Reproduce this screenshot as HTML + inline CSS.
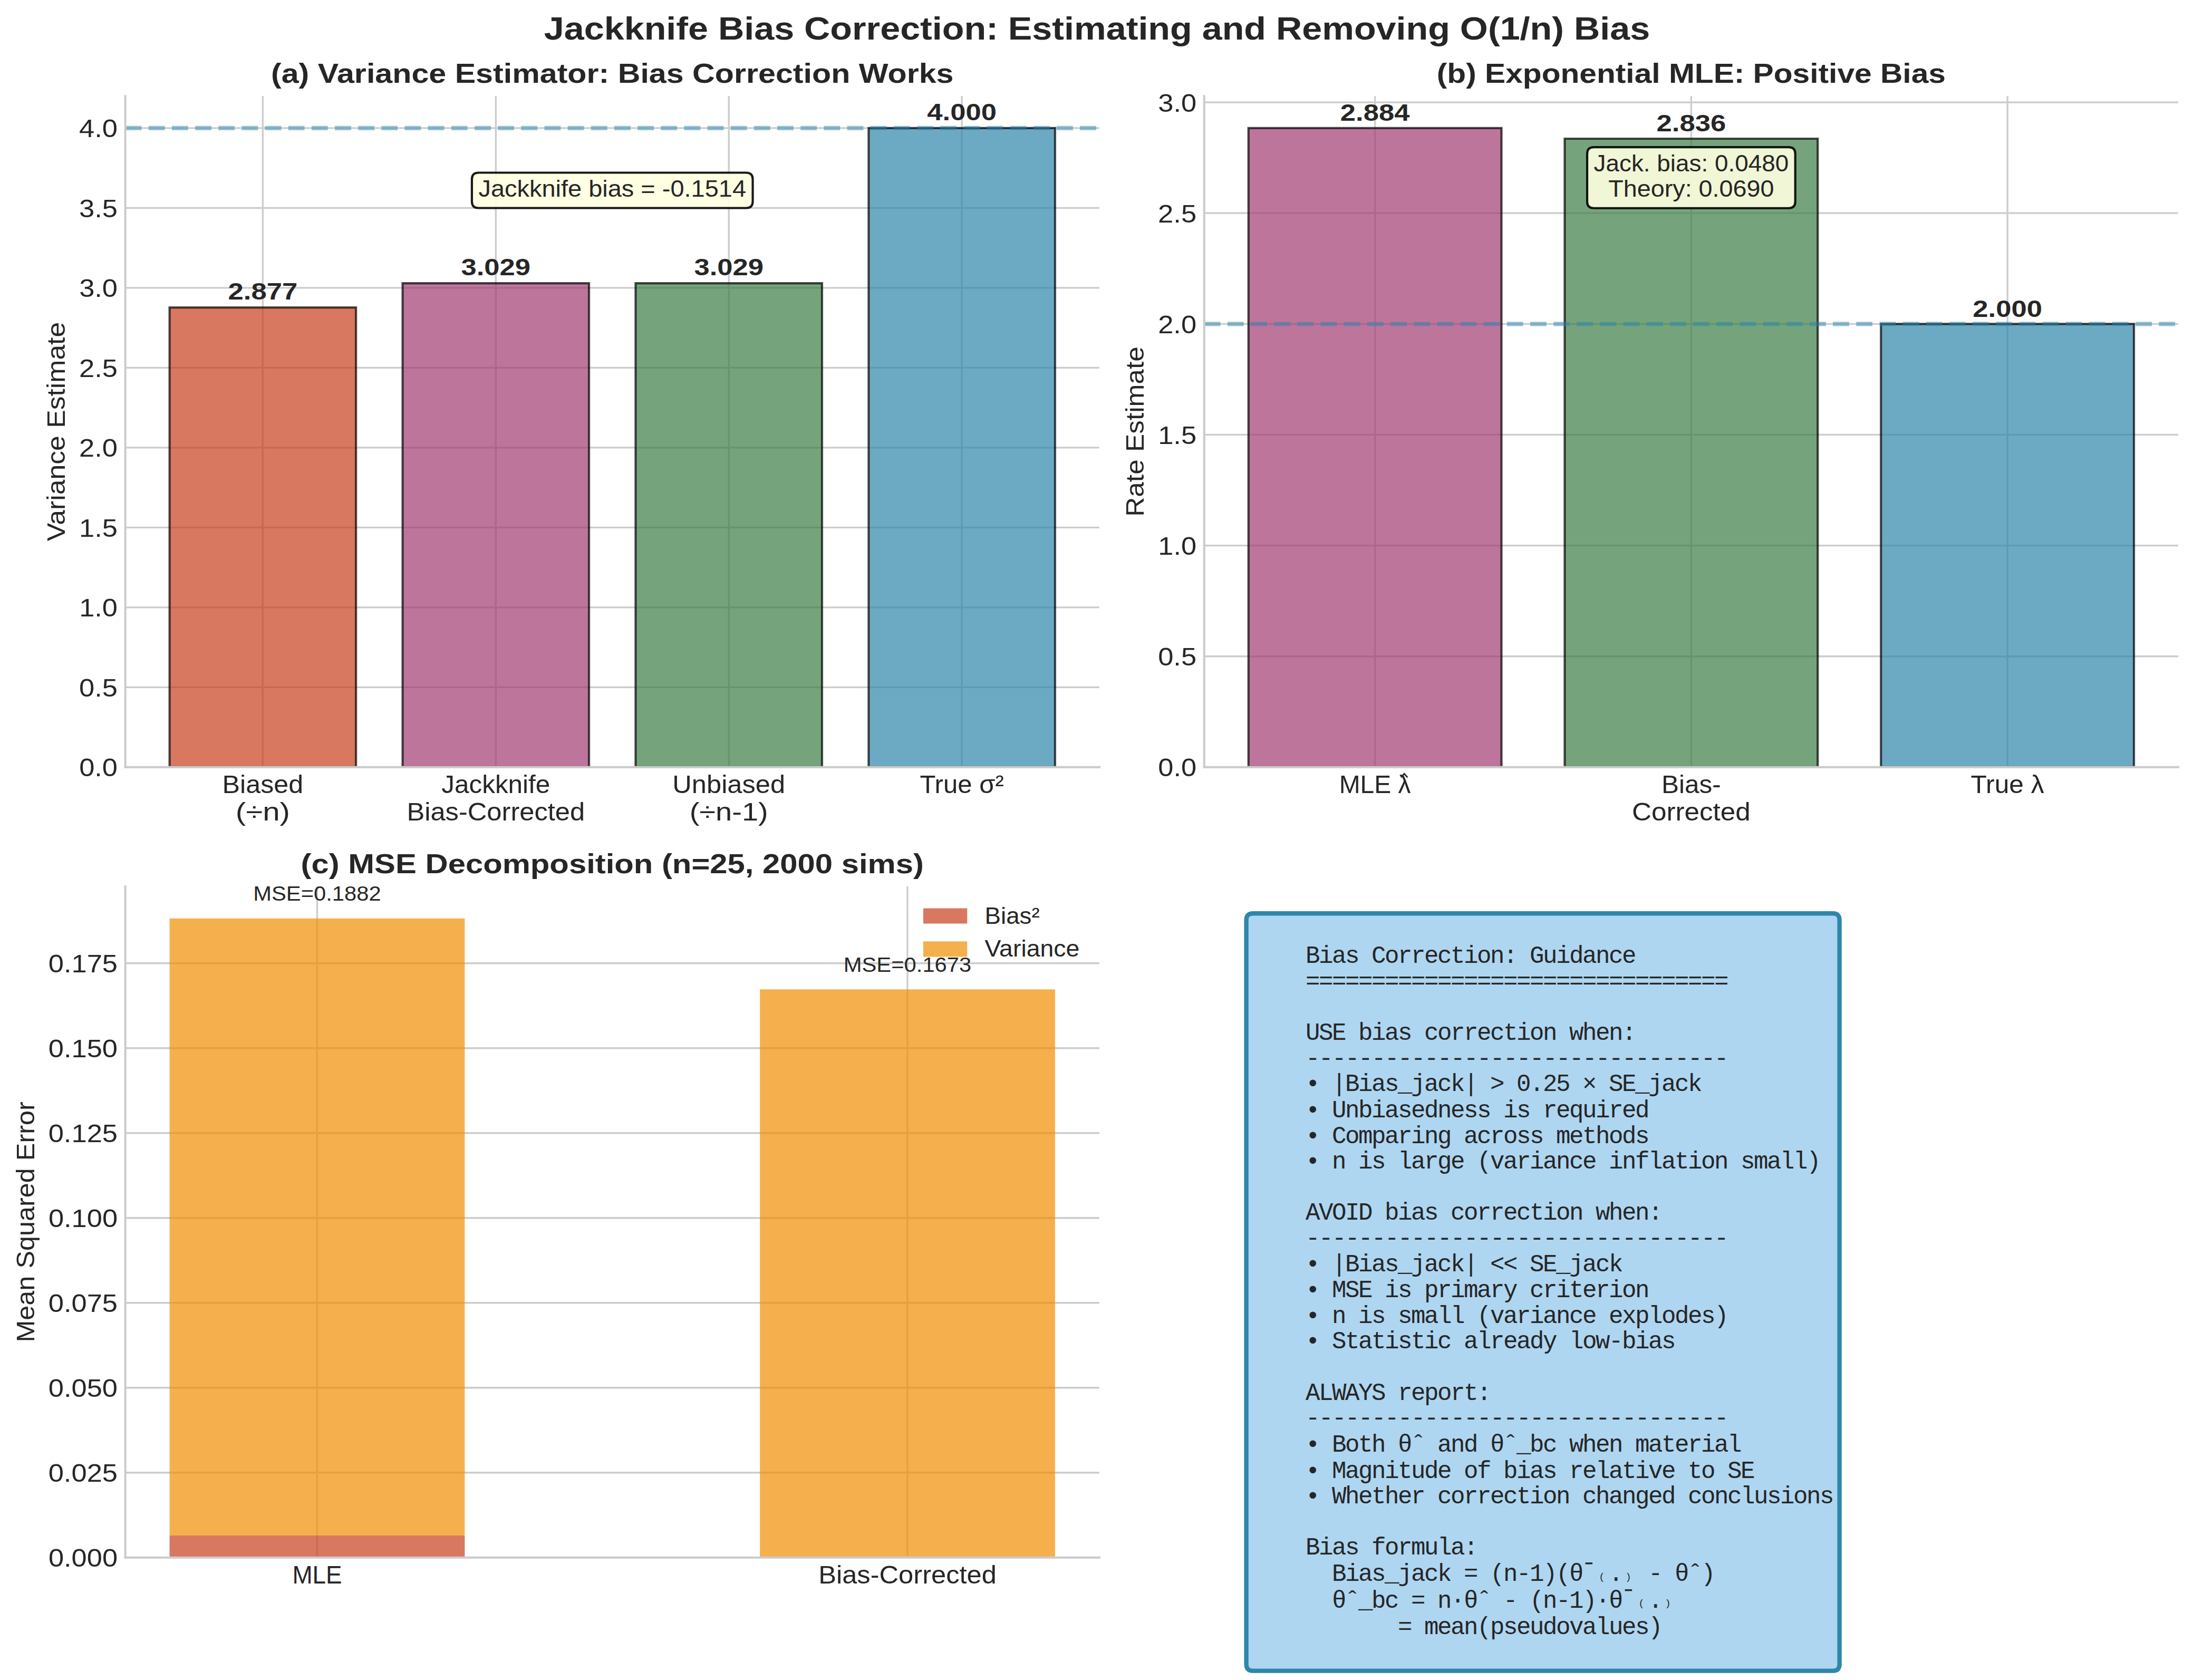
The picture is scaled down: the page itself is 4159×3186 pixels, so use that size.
<!DOCTYPE html>
<html><head><meta charset="utf-8"><title>Jackknife Bias Correction</title>
<style>html,body{margin:0;padding:0;background:#fff;}svg{display:block;}</style></head>
<body><svg width="4159" height="3186" viewBox="0 0 4159 3186">
<rect x="0" y="0" width="4159" height="3186" fill="#ffffff"/>
<path d="M498.36 1454.84L498.36 182.22" fill="none" stroke="#cccccc" stroke-width="3.33" stroke-linecap="butt"/>
<path d="M940.29 1454.84L940.29 182.22" fill="none" stroke="#cccccc" stroke-width="3.33" stroke-linecap="butt"/>
<path d="M1382.21 1454.84L1382.21 182.22" fill="none" stroke="#cccccc" stroke-width="3.33" stroke-linecap="butt"/>
<path d="M1824.14 1454.84L1824.14 182.22" fill="none" stroke="#cccccc" stroke-width="3.33" stroke-linecap="butt"/>
<path d="M237.63 1454.84L2084.87 1454.84" fill="none" stroke="#cccccc" stroke-width="3.33" stroke-linecap="butt"/>
<path d="M237.63 1303.34L2084.87 1303.34" fill="none" stroke="#cccccc" stroke-width="3.33" stroke-linecap="butt"/>
<path d="M237.63 1151.83L2084.87 1151.83" fill="none" stroke="#cccccc" stroke-width="3.33" stroke-linecap="butt"/>
<path d="M237.63 1000.33L2084.87 1000.33" fill="none" stroke="#cccccc" stroke-width="3.33" stroke-linecap="butt"/>
<path d="M237.63 848.83L2084.87 848.83" fill="none" stroke="#cccccc" stroke-width="3.33" stroke-linecap="butt"/>
<path d="M237.63 697.33L2084.87 697.33" fill="none" stroke="#cccccc" stroke-width="3.33" stroke-linecap="butt"/>
<path d="M237.63 545.82L2084.87 545.82" fill="none" stroke="#cccccc" stroke-width="3.33" stroke-linecap="butt"/>
<path d="M237.63 394.32L2084.87 394.32" fill="none" stroke="#cccccc" stroke-width="3.33" stroke-linecap="butt"/>
<path d="M237.63 242.82L2084.87 242.82" fill="none" stroke="#cccccc" stroke-width="3.33" stroke-linecap="butt"/>
<path d="M321.59 1454.84L675.13 1454.84L675.13 583.09L321.59 583.09Z" fill="#c73e1d" fill-opacity="0.700" stroke="#000000" stroke-width="4.17" stroke-opacity="0.700"/>
<path d="M763.52 1454.84L1117.06 1454.84L1117.06 537.04L763.52 537.04Z" fill="#a23b72" fill-opacity="0.700" stroke="#000000" stroke-width="4.17" stroke-opacity="0.700"/>
<path d="M1205.44 1454.84L1558.98 1454.84L1558.98 537.04L1205.44 537.04Z" fill="#3a7d44" fill-opacity="0.700" stroke="#000000" stroke-width="4.17" stroke-opacity="0.700"/>
<path d="M1647.37 1454.84L2000.91 1454.84L2000.91 242.82L1647.37 242.82Z" fill="#2e86ab" fill-opacity="0.700" stroke="#000000" stroke-width="4.17" stroke-opacity="0.700"/>
<path d="M237.63 242.82L2084.87 242.82" fill="none" stroke="#2e86ab" stroke-width="8.33" stroke-opacity="0.500" stroke-dasharray="30.83,13.33" stroke-linecap="butt"/>
<path d="M237.63 1454.84L237.63 182.22" fill="none" stroke="#cccccc" stroke-width="4.17" stroke-linecap="square"/>
<path d="M237.63 1454.84L2084.87 1454.84" fill="none" stroke="#cccccc" stroke-width="4.17" stroke-linecap="square"/>
<text x="421.61" y="1504.42" font-family="'Liberation Sans', sans-serif" font-size="48.13" font-weight="normal" fill="#262626" textLength="153.5" lengthAdjust="spacingAndGlyphs">Biased</text>
<text x="446.74" y="1556.42" font-family="'Liberation Sans', sans-serif" font-size="48.13" font-weight="normal" fill="#262626" textLength="103.25" lengthAdjust="spacingAndGlyphs">(÷n)</text>
<text x="837.29" y="1504.42" font-family="'Liberation Sans', sans-serif" font-size="48.13" font-weight="normal" fill="#262626" textLength="206" lengthAdjust="spacingAndGlyphs">Jackknife</text>
<text x="771.41" y="1556.42" font-family="'Liberation Sans', sans-serif" font-size="48.13" font-weight="normal" fill="#262626" textLength="337.75" lengthAdjust="spacingAndGlyphs">Bias-Corrected</text>
<text x="1275.34" y="1504.42" font-family="'Liberation Sans', sans-serif" font-size="48.13" font-weight="normal" fill="#262626" textLength="213.75" lengthAdjust="spacingAndGlyphs">Unbiased</text>
<text x="1307.71" y="1556.42" font-family="'Liberation Sans', sans-serif" font-size="48.13" font-weight="normal" fill="#262626" textLength="149" lengthAdjust="spacingAndGlyphs">(÷n-1)</text>
<text x="1744.45" y="1504.42" font-family="'Liberation Sans', sans-serif" font-size="48.13" font-weight="normal" fill="#262626" textLength="159.38" lengthAdjust="spacingAndGlyphs">True σ²</text>
<text x="150.17" y="1472.34" font-family="'Liberation Sans', sans-serif" font-size="48.13" font-weight="normal" fill="#262626" textLength="72.88" lengthAdjust="spacingAndGlyphs">0.0</text>
<text x="150.04" y="1320.84" font-family="'Liberation Sans', sans-serif" font-size="48.13" font-weight="normal" fill="#262626" textLength="73" lengthAdjust="spacingAndGlyphs">0.5</text>
<text x="150.17" y="1169.33" font-family="'Liberation Sans', sans-serif" font-size="48.13" font-weight="normal" fill="#262626" textLength="72.88" lengthAdjust="spacingAndGlyphs">1.0</text>
<text x="150.04" y="1017.83" font-family="'Liberation Sans', sans-serif" font-size="48.13" font-weight="normal" fill="#262626" textLength="73" lengthAdjust="spacingAndGlyphs">1.5</text>
<text x="150.04" y="866.33" font-family="'Liberation Sans', sans-serif" font-size="48.13" font-weight="normal" fill="#262626" textLength="73" lengthAdjust="spacingAndGlyphs">2.0</text>
<text x="149.92" y="714.83" font-family="'Liberation Sans', sans-serif" font-size="48.13" font-weight="normal" fill="#262626" textLength="73.12" lengthAdjust="spacingAndGlyphs">2.5</text>
<text x="150.17" y="563.32" font-family="'Liberation Sans', sans-serif" font-size="48.13" font-weight="normal" fill="#262626" textLength="72.88" lengthAdjust="spacingAndGlyphs">3.0</text>
<text x="150.04" y="411.82" font-family="'Liberation Sans', sans-serif" font-size="48.13" font-weight="normal" fill="#262626" textLength="73" lengthAdjust="spacingAndGlyphs">3.5</text>
<text x="150.04" y="260.32" font-family="'Liberation Sans', sans-serif" font-size="48.13" font-weight="normal" fill="#262626" textLength="73" lengthAdjust="spacingAndGlyphs">4.0</text>
<text transform="translate(123.25 1026.28) rotate(-90)" x="0" y="0" font-family="'Liberation Sans', sans-serif" font-size="48.13" font-weight="normal" fill="#262626" textLength="415.5" lengthAdjust="spacingAndGlyphs">Variance Estimate</text>
<text x="432.49" y="568.03" font-family="'Liberation Sans', sans-serif" font-size="43.75" font-weight="bold" fill="#262626" textLength="131.75" lengthAdjust="spacingAndGlyphs">2.877</text>
<text x="874.47" y="521.98" font-family="'Liberation Sans', sans-serif" font-size="43.75" font-weight="bold" fill="#262626" textLength="131.62" lengthAdjust="spacingAndGlyphs">3.029</text>
<text x="1316.4" y="521.98" font-family="'Liberation Sans', sans-serif" font-size="43.75" font-weight="bold" fill="#262626" textLength="131.62" lengthAdjust="spacingAndGlyphs">3.029</text>
<text x="1758.26" y="227.76" font-family="'Liberation Sans', sans-serif" font-size="43.75" font-weight="bold" fill="#262626" textLength="131.75" lengthAdjust="spacingAndGlyphs">4.000</text>
<path d="M907.44 394.49L1415.06 394.49Q1427.56 394.49 1427.56 381.99L1427.56 339.99Q1427.56 327.49 1415.06 327.49L907.44 327.49Q894.94 327.49 894.94 339.99L894.94 381.99Q894.94 394.49 907.44 394.49Z" fill="#ffffe0" fill-opacity="0.900" stroke="#000000" stroke-width="4.17" stroke-opacity="0.900"/>
<text x="907.44" y="372.99" font-family="'Liberation Sans', sans-serif" font-size="43.75" font-weight="normal" fill="#262626" textLength="507.62" lengthAdjust="spacingAndGlyphs">Jackknife bias = -0.1514</text>
<text x="514" y="157.22" font-family="'Liberation Sans', sans-serif" font-size="52.5" font-weight="bold" fill="#262626" textLength="1294.5" lengthAdjust="spacingAndGlyphs">(a) Variance Estimator: Bias Correction Works</text>
<path d="M2607.62 1454.84L2607.62 182.22" fill="none" stroke="#cccccc" stroke-width="3.33" stroke-linecap="butt"/>
<path d="M3207.37 1454.84L3207.37 182.22" fill="none" stroke="#cccccc" stroke-width="3.33" stroke-linecap="butt"/>
<path d="M3807.13 1454.84L3807.13 182.22" fill="none" stroke="#cccccc" stroke-width="3.33" stroke-linecap="butt"/>
<path d="M2283.75 1454.84L4131 1454.84" fill="none" stroke="#cccccc" stroke-width="3.33" stroke-linecap="butt"/>
<path d="M2283.75 1244.71L4131 1244.71" fill="none" stroke="#cccccc" stroke-width="3.33" stroke-linecap="butt"/>
<path d="M2283.75 1034.58L4131 1034.58" fill="none" stroke="#cccccc" stroke-width="3.33" stroke-linecap="butt"/>
<path d="M2283.75 824.45L4131 824.45" fill="none" stroke="#cccccc" stroke-width="3.33" stroke-linecap="butt"/>
<path d="M2283.75 614.33L4131 614.33" fill="none" stroke="#cccccc" stroke-width="3.33" stroke-linecap="butt"/>
<path d="M2283.75 404.2L4131 404.2" fill="none" stroke="#cccccc" stroke-width="3.33" stroke-linecap="butt"/>
<path d="M2283.75 194.07L4131 194.07" fill="none" stroke="#cccccc" stroke-width="3.33" stroke-linecap="butt"/>
<path d="M2367.72 1454.84L2847.52 1454.84L2847.52 242.82L2367.72 242.82Z" fill="#a23b72" fill-opacity="0.700" stroke="#000000" stroke-width="4.17" stroke-opacity="0.700"/>
<path d="M2967.47 1454.84L3447.28 1454.84L3447.28 262.99L2967.47 262.99Z" fill="#3a7d44" fill-opacity="0.700" stroke="#000000" stroke-width="4.17" stroke-opacity="0.700"/>
<path d="M3567.23 1454.84L4047.03 1454.84L4047.03 614.33L3567.23 614.33Z" fill="#2e86ab" fill-opacity="0.700" stroke="#000000" stroke-width="4.17" stroke-opacity="0.700"/>
<path d="M2283.75 614.33L4131 614.33" fill="none" stroke="#2e86ab" stroke-width="8.33" stroke-opacity="0.500" stroke-dasharray="30.83,13.33" stroke-linecap="butt"/>
<path d="M2283.75 1454.84L2283.75 182.22" fill="none" stroke="#cccccc" stroke-width="4.17" stroke-linecap="square"/>
<path d="M2283.75 1454.84L4131 1454.84" fill="none" stroke="#cccccc" stroke-width="4.17" stroke-linecap="square"/>
<path d="M2657.3 1474.4 L2663.1 1467.4 L2669.4 1474.4" fill="none" stroke="#262626" stroke-width="2.8" stroke-linejoin="miter"/>
<text x="2539.68" y="1504.42" font-family="'Liberation Sans', sans-serif" font-size="48.13" font-weight="normal" fill="#262626" textLength="135.88" lengthAdjust="spacingAndGlyphs">MLE λ</text>
<text x="3150.94" y="1504.42" font-family="'Liberation Sans', sans-serif" font-size="48.13" font-weight="normal" fill="#262626" textLength="112.88" lengthAdjust="spacingAndGlyphs">Bias-</text>
<text x="3094.94" y="1556.42" font-family="'Liberation Sans', sans-serif" font-size="48.13" font-weight="normal" fill="#262626" textLength="224.88" lengthAdjust="spacingAndGlyphs">Corrected</text>
<text x="3737.57" y="1504.42" font-family="'Liberation Sans', sans-serif" font-size="48.13" font-weight="normal" fill="#262626" textLength="139.12" lengthAdjust="spacingAndGlyphs">True λ</text>
<text x="2196.29" y="1472.34" font-family="'Liberation Sans', sans-serif" font-size="48.13" font-weight="normal" fill="#262626" textLength="72.88" lengthAdjust="spacingAndGlyphs">0.0</text>
<text x="2196.17" y="1262.21" font-family="'Liberation Sans', sans-serif" font-size="48.13" font-weight="normal" fill="#262626" textLength="73" lengthAdjust="spacingAndGlyphs">0.5</text>
<text x="2196.29" y="1052.08" font-family="'Liberation Sans', sans-serif" font-size="48.13" font-weight="normal" fill="#262626" textLength="72.88" lengthAdjust="spacingAndGlyphs">1.0</text>
<text x="2196.17" y="841.95" font-family="'Liberation Sans', sans-serif" font-size="48.13" font-weight="normal" fill="#262626" textLength="73" lengthAdjust="spacingAndGlyphs">1.5</text>
<text x="2196.17" y="631.83" font-family="'Liberation Sans', sans-serif" font-size="48.13" font-weight="normal" fill="#262626" textLength="73" lengthAdjust="spacingAndGlyphs">2.0</text>
<text x="2196.04" y="421.7" font-family="'Liberation Sans', sans-serif" font-size="48.13" font-weight="normal" fill="#262626" textLength="73.12" lengthAdjust="spacingAndGlyphs">2.5</text>
<text x="2196.29" y="211.57" font-family="'Liberation Sans', sans-serif" font-size="48.13" font-weight="normal" fill="#262626" textLength="72.88" lengthAdjust="spacingAndGlyphs">3.0</text>
<text transform="translate(2169.38 979.78) rotate(-90)" x="0" y="0" font-family="'Liberation Sans', sans-serif" font-size="48.13" font-weight="normal" fill="#262626" textLength="322.5" lengthAdjust="spacingAndGlyphs">Rate Estimate</text>
<text x="2541.81" y="229.2" font-family="'Liberation Sans', sans-serif" font-size="43.75" font-weight="bold" fill="#262626" textLength="131.62" lengthAdjust="spacingAndGlyphs">2.884</text>
<text x="3141.5" y="249.37" font-family="'Liberation Sans', sans-serif" font-size="43.75" font-weight="bold" fill="#262626" textLength="131.75" lengthAdjust="spacingAndGlyphs">2.836</text>
<text x="3741.26" y="600.7" font-family="'Liberation Sans', sans-serif" font-size="43.75" font-weight="bold" fill="#262626" textLength="131.75" lengthAdjust="spacingAndGlyphs">2.000</text>
<path d="M3022.56 394.76L3392.19 394.76Q3404.69 394.76 3404.69 382.26L3404.69 291.66Q3404.69 279.16 3392.19 279.16L3022.56 279.16Q3010.06 279.16 3010.06 291.66L3010.06 382.26Q3010.06 394.76 3022.56 394.76Z" fill="#ffffe0" fill-opacity="0.900" stroke="#000000" stroke-width="4.17" stroke-opacity="0.900"/>
<text x="3022.56" y="324.66" font-family="'Liberation Sans', sans-serif" font-size="43.75" font-weight="normal" fill="#262626" textLength="369.62" lengthAdjust="spacingAndGlyphs">Jack. bias: 0.0480</text>
<text x="3050.19" y="373.26" font-family="'Liberation Sans', sans-serif" font-size="43.75" font-weight="normal" fill="#262626" textLength="314.38" lengthAdjust="spacingAndGlyphs">Theory: 0.0690</text>
<text x="2724.81" y="157.22" font-family="'Liberation Sans', sans-serif" font-size="52.5" font-weight="bold" fill="#262626" textLength="965.12" lengthAdjust="spacingAndGlyphs">(b) Exponential MLE: Positive Bias</text>
<path d="M601.48 2953.74L601.48 1681.12" fill="none" stroke="#cccccc" stroke-width="3.33" stroke-linecap="butt"/>
<path d="M1721.02 2953.74L1721.02 1681.12" fill="none" stroke="#cccccc" stroke-width="3.33" stroke-linecap="butt"/>
<path d="M237.63 2953.74L2084.87 2953.74" fill="none" stroke="#cccccc" stroke-width="3.33" stroke-linecap="butt"/>
<path d="M237.63 2792.74L2084.87 2792.74" fill="none" stroke="#cccccc" stroke-width="3.33" stroke-linecap="butt"/>
<path d="M237.63 2631.74L2084.87 2631.74" fill="none" stroke="#cccccc" stroke-width="3.33" stroke-linecap="butt"/>
<path d="M237.63 2470.73L2084.87 2470.73" fill="none" stroke="#cccccc" stroke-width="3.33" stroke-linecap="butt"/>
<path d="M237.63 2309.73L2084.87 2309.73" fill="none" stroke="#cccccc" stroke-width="3.33" stroke-linecap="butt"/>
<path d="M237.63 2148.73L2084.87 2148.73" fill="none" stroke="#cccccc" stroke-width="3.33" stroke-linecap="butt"/>
<path d="M237.63 1987.73L2084.87 1987.73" fill="none" stroke="#cccccc" stroke-width="3.33" stroke-linecap="butt"/>
<path d="M237.63 1826.73L2084.87 1826.73" fill="none" stroke="#cccccc" stroke-width="3.33" stroke-linecap="butt"/>
<path d="M321.59 2953.74L881.36 2953.74L881.36 2911.88L321.59 2911.88Z" fill="#c73e1d" fill-opacity="0.700"/>
<path d="M1441.14 2953.74L2000.91 2953.74L2000.91 2953.42L1441.14 2953.42Z" fill="#c73e1d" fill-opacity="0.700"/>
<path d="M321.59 2911.88L881.36 2911.88L881.36 1741.72L321.59 1741.72Z" fill="#f18f01" fill-opacity="0.700"/>
<path d="M1441.14 2953.42L2000.91 2953.42L2000.91 1876.32L1441.14 1876.32Z" fill="#f18f01" fill-opacity="0.700"/>
<path d="M237.63 2953.74L237.63 1681.12" fill="none" stroke="#cccccc" stroke-width="4.17" stroke-linecap="square"/>
<path d="M237.63 2953.74L2084.87 2953.74" fill="none" stroke="#cccccc" stroke-width="4.17" stroke-linecap="square"/>
<text x="554.41" y="3003.32" font-family="'Liberation Sans', sans-serif" font-size="48.13" font-weight="normal" fill="#262626" textLength="94.12" lengthAdjust="spacingAndGlyphs">MLE</text>
<text x="1552.15" y="3003.32" font-family="'Liberation Sans', sans-serif" font-size="48.13" font-weight="normal" fill="#262626" textLength="337.75" lengthAdjust="spacingAndGlyphs">Bias-Corrected</text>
<text x="91.92" y="2971.24" font-family="'Liberation Sans', sans-serif" font-size="48.13" font-weight="normal" fill="#262626" textLength="131.12" lengthAdjust="spacingAndGlyphs">0.000</text>
<text x="91.67" y="2810.24" font-family="'Liberation Sans', sans-serif" font-size="48.13" font-weight="normal" fill="#262626" textLength="131.38" lengthAdjust="spacingAndGlyphs">0.025</text>
<text x="91.79" y="2649.24" font-family="'Liberation Sans', sans-serif" font-size="48.13" font-weight="normal" fill="#262626" textLength="131.25" lengthAdjust="spacingAndGlyphs">0.050</text>
<text x="91.79" y="2488.23" font-family="'Liberation Sans', sans-serif" font-size="48.13" font-weight="normal" fill="#262626" textLength="131.25" lengthAdjust="spacingAndGlyphs">0.075</text>
<text x="91.92" y="2327.23" font-family="'Liberation Sans', sans-serif" font-size="48.13" font-weight="normal" fill="#262626" textLength="131.12" lengthAdjust="spacingAndGlyphs">0.100</text>
<text x="91.67" y="2166.23" font-family="'Liberation Sans', sans-serif" font-size="48.13" font-weight="normal" fill="#262626" textLength="131.38" lengthAdjust="spacingAndGlyphs">0.125</text>
<text x="91.79" y="2005.23" font-family="'Liberation Sans', sans-serif" font-size="48.13" font-weight="normal" fill="#262626" textLength="131.25" lengthAdjust="spacingAndGlyphs">0.150</text>
<text x="91.79" y="1844.23" font-family="'Liberation Sans', sans-serif" font-size="48.13" font-weight="normal" fill="#262626" textLength="131.25" lengthAdjust="spacingAndGlyphs">0.175</text>
<text transform="translate(65 2545.62) rotate(-90)" x="0" y="0" font-family="'Liberation Sans', sans-serif" font-size="48.13" font-weight="normal" fill="#262626" textLength="456.38" lengthAdjust="spacingAndGlyphs">Mean Squared Error</text>
<text x="480.23" y="1707.96" font-family="'Liberation Sans', sans-serif" font-size="39.38" font-weight="normal" fill="#262626" textLength="242.5" lengthAdjust="spacingAndGlyphs">MSE=0.1882</text>
<text x="1599.77" y="1842.56" font-family="'Liberation Sans', sans-serif" font-size="39.38" font-weight="normal" fill="#262626" textLength="242.5" lengthAdjust="spacingAndGlyphs">MSE=0.1673</text>
<path d="M1750.96 1751.62L1834.29 1751.62L1834.29 1722.45L1750.96 1722.45Z" fill="#c73e1d" fill-opacity="0.700"/>
<path d="M1750.96 1814.45L1834.29 1814.45L1834.29 1785.29L1750.96 1785.29Z" fill="#f18f01" fill-opacity="0.700"/>
<text x="1867.62" y="1751.62" font-family="'Liberation Sans', sans-serif" font-size="43.75" font-weight="normal" fill="#262626" textLength="104" lengthAdjust="spacingAndGlyphs">Bias²</text>
<text x="1867.62" y="1814.45" font-family="'Liberation Sans', sans-serif" font-size="43.75" font-weight="normal" fill="#262626" textLength="179.75" lengthAdjust="spacingAndGlyphs">Variance</text>
<text x="570.56" y="1656.12" font-family="'Liberation Sans', sans-serif" font-size="52.5" font-weight="bold" fill="#262626" textLength="1181.38" lengthAdjust="spacingAndGlyphs">(c) MSE Decomposition (n=25, 2000 sims)</text>
<path d="M2376.11 3168.65L3476.11 3168.65Q3488.61 3168.65 3488.61 3156.15L3488.61 1744.75Q3488.61 1732.25 3476.11 1732.25L2376.11 1732.25Q2363.61 1732.25 2363.61 1744.75L2363.61 3156.15Q2363.61 3168.65 2376.11 3168.65Z" fill="#aed6f1" stroke="#2e86ab" stroke-width="8.33"/>
<text x="2476.11 2501.11 2526.11 2551.11 2601.11 2626.11 2651.11 2676.11 2701.11 2726.11 2751.11 2776.11 2801.11 2826.11 2851.11 2901.11 2926.11 2951.11 2976.11 3001.11 3026.11 3051.11 3076.11" y="1826.35" font-family="'Liberation Mono', monospace" font-size="45.83" fill="#262626">BiasCorrection:Guidance</text>
<text x="2476.11 2501.11 2526.11 2551.11 2576.11 2601.11 2626.11 2651.11 2676.11 2701.11 2726.11 2751.11 2776.11 2801.11 2826.11 2851.11 2876.11 2901.11 2926.11 2951.11 2976.11 3001.11 3026.11 3051.11 3076.11 3101.11 3126.11 3151.11 3176.11 3201.11 3226.11 3251.11" y="1874.95" font-family="'Liberation Mono', monospace" font-size="45.83" fill="#262626">================================</text>
<text x="2476.11 2501.11 2526.11 2576.11 2601.11 2626.11 2651.11 2701.11 2726.11 2751.11 2776.11 2801.11 2826.11 2851.11 2876.11 2901.11 2926.11 2976.11 3001.11 3026.11 3051.11 3076.11" y="1972.15" font-family="'Liberation Mono', monospace" font-size="45.83" fill="#262626">USEbiascorrectionwhen:</text>
<text x="2476.11 2501.11 2526.11 2551.11 2576.11 2601.11 2626.11 2651.11 2676.11 2701.11 2726.11 2751.11 2776.11 2801.11 2826.11 2851.11 2876.11 2901.11 2926.11 2951.11 2976.11 3001.11 3026.11 3051.11 3076.11 3101.11 3126.11 3151.11 3176.11 3201.11 3226.11 3251.11" y="2020.75" font-family="'Liberation Mono', monospace" font-size="45.83" fill="#262626">--------------------------------</text>
<text x="2476.11 2526.11 2551.11 2576.11 2601.11 2626.11 2651.11 2676.11 2701.11 2726.11 2751.11 2776.11 2826.11 2876.11 2901.11 2926.11 2951.11 3001.11 3051.11 3076.11 3101.11 3126.11 3151.11 3176.11 3201.11" y="2069.35" font-family="'Liberation Mono', monospace" font-size="45.83" fill="#262626">•|Bias_jack|&gt;0.25×SE_jack</text>
<text x="2476.11 2526.11 2551.11 2576.11 2601.11 2626.11 2651.11 2676.11 2701.11 2726.11 2751.11 2776.11 2801.11 2851.11 2876.11 2926.11 2951.11 2976.11 3001.11 3026.11 3051.11 3076.11 3101.11" y="2118.95" font-family="'Liberation Mono', monospace" font-size="45.83" fill="#262626">•Unbiasednessisrequired</text>
<text x="2476.11 2526.11 2551.11 2576.11 2601.11 2626.11 2651.11 2676.11 2701.11 2726.11 2776.11 2801.11 2826.11 2851.11 2876.11 2901.11 2951.11 2976.11 3001.11 3026.11 3051.11 3076.11 3101.11" y="2167.55" font-family="'Liberation Mono', monospace" font-size="45.83" fill="#262626">•Comparingacrossmethods</text>
<text x="2476.11 2526.11 2576.11 2601.11 2651.11 2676.11 2701.11 2726.11 2751.11 2801.11 2826.11 2851.11 2876.11 2901.11 2926.11 2951.11 2976.11 3001.11 3051.11 3076.11 3101.11 3126.11 3151.11 3176.11 3201.11 3226.11 3251.11 3301.11 3326.11 3351.11 3376.11 3401.11 3426.11" y="2216.15" font-family="'Liberation Mono', monospace" font-size="45.83" fill="#262626">•nislarge(varianceinflationsmall)</text>
<text x="2476.11 2501.11 2526.11 2551.11 2576.11 2626.11 2651.11 2676.11 2701.11 2751.11 2776.11 2801.11 2826.11 2851.11 2876.11 2901.11 2926.11 2951.11 2976.11 3026.11 3051.11 3076.11 3101.11 3126.11" y="2313.35" font-family="'Liberation Mono', monospace" font-size="45.83" fill="#262626">AVOIDbiascorrectionwhen:</text>
<text x="2476.11 2501.11 2526.11 2551.11 2576.11 2601.11 2626.11 2651.11 2676.11 2701.11 2726.11 2751.11 2776.11 2801.11 2826.11 2851.11 2876.11 2901.11 2926.11 2951.11 2976.11 3001.11 3026.11 3051.11 3076.11 3101.11 3126.11 3151.11 3176.11 3201.11 3226.11 3251.11" y="2361.95" font-family="'Liberation Mono', monospace" font-size="45.83" fill="#262626">--------------------------------</text>
<text x="2476.11 2526.11 2551.11 2576.11 2601.11 2626.11 2651.11 2676.11 2701.11 2726.11 2751.11 2776.11 2826.11 2851.11 2901.11 2926.11 2951.11 2976.11 3001.11 3026.11 3051.11" y="2410.55" font-family="'Liberation Mono', monospace" font-size="45.83" fill="#262626">•|Bias_jack|&lt;&lt;SE_jack</text>
<text x="2476.11 2526.11 2551.11 2576.11 2626.11 2651.11 2701.11 2726.11 2751.11 2776.11 2801.11 2826.11 2851.11 2901.11 2926.11 2951.11 2976.11 3001.11 3026.11 3051.11 3076.11 3101.11" y="2460.15" font-family="'Liberation Mono', monospace" font-size="45.83" fill="#262626">•MSEisprimarycriterion</text>
<text x="2476.11 2526.11 2576.11 2601.11 2651.11 2676.11 2701.11 2726.11 2751.11 2801.11 2826.11 2851.11 2876.11 2901.11 2926.11 2951.11 2976.11 3001.11 3051.11 3076.11 3101.11 3126.11 3151.11 3176.11 3201.11 3226.11 3251.11" y="2508.75" font-family="'Liberation Mono', monospace" font-size="45.83" fill="#262626">•nissmall(varianceexplodes)</text>
<text x="2476.11 2526.11 2551.11 2576.11 2601.11 2626.11 2651.11 2676.11 2701.11 2726.11 2776.11 2801.11 2826.11 2851.11 2876.11 2901.11 2926.11 2976.11 3001.11 3026.11 3051.11 3076.11 3101.11 3126.11 3151.11" y="2557.35" font-family="'Liberation Mono', monospace" font-size="45.83" fill="#262626">•Statisticalreadylow-bias</text>
<text x="2476.11 2501.11 2526.11 2551.11 2576.11 2601.11 2651.11 2676.11 2701.11 2726.11 2751.11 2776.11 2801.11" y="2654.55" font-family="'Liberation Mono', monospace" font-size="45.83" fill="#262626">ALWAYSreport:</text>
<text x="2476.11 2501.11 2526.11 2551.11 2576.11 2601.11 2626.11 2651.11 2676.11 2701.11 2726.11 2751.11 2776.11 2801.11 2826.11 2851.11 2876.11 2901.11 2926.11 2951.11 2976.11 3001.11 3026.11 3051.11 3076.11 3101.11 3126.11 3151.11 3176.11 3201.11 3226.11 3251.11" y="2703.15" font-family="'Liberation Mono', monospace" font-size="45.83" fill="#262626">--------------------------------</text>
<text x="2476.11 2526.11 2551.11 2576.11 2601.11 2651.11 2676.11 2726.11 2751.11 2776.11 2826.11 2851.11 2876.11 2901.11 2926.11 2976.11 3001.11 3026.11 3051.11 3101.11 3126.11 3151.11 3176.11 3201.11 3226.11 3251.11 3276.11" y="2752.95" font-family="'Liberation Mono', monospace" font-size="45.83" fill="#262626">•Bothθˆandθˆ_bcwhenmaterial</text>
<text x="2476.11 2526.11 2551.11 2576.11 2601.11 2626.11 2651.11 2676.11 2701.11 2726.11 2776.11 2801.11 2851.11 2876.11 2901.11 2926.11 2976.11 3001.11 3026.11 3051.11 3076.11 3101.11 3126.11 3151.11 3201.11 3226.11 3276.11 3301.11" y="2802.55" font-family="'Liberation Mono', monospace" font-size="45.83" fill="#262626">•MagnitudeofbiasrelativetoSE</text>
<text x="2476.11 2526.11 2551.11 2576.11 2601.11 2626.11 2651.11 2676.11 2726.11 2751.11 2776.11 2801.11 2826.11 2851.11 2876.11 2901.11 2926.11 2951.11 3001.11 3026.11 3051.11 3076.11 3101.11 3126.11 3151.11 3201.11 3226.11 3251.11 3276.11 3301.11 3326.11 3351.11 3376.11 3401.11 3426.11 3451.11" y="2851.15" font-family="'Liberation Mono', monospace" font-size="45.83" fill="#262626">•Whethercorrectionchangedconclusions</text>
<text x="2476.11 2501.11 2526.11 2551.11 2601.11 2626.11 2651.11 2676.11 2701.11 2726.11 2751.11 2776.11" y="2948.35" font-family="'Liberation Mono', monospace" font-size="45.83" fill="#262626">Biasformula:</text>
<text x="2526.11 2551.11 2576.11 2601.11 2626.11 2651.11 2676.11 2701.11 2726.11 2776.11 2826.11 2851.11 2876.11 2901.11 2926.11 2951.11 2976.11 3051.11 3126.11 3176.11 3201.11 3226.11" y="2998.15" font-family="'Liberation Mono', monospace" font-size="45.83" fill="#262626">Bias_jack=(n-1)(θ.-θˆ)</text>
<text x="3032.36" y="2995.65" font-family="'Liberation Mono', monospace" font-size="19.17" fill="#262626">(</text>
<text x="3082.36" y="2995.65" font-family="'Liberation Mono', monospace" font-size="19.17" fill="#262626">)</text>
<rect x="3006.61" y="2963.15" width="13.5" height="3.33" fill="#262626"/>
<text x="2526.11 2551.11 2576.11 2601.11 2626.11 2676.11 2726.11 2751.11 2776.11 2801.11 2851.11 2901.11 2926.11 2951.11 2976.11 3001.11 3026.11 3051.11 3126.11" y="3048.95" font-family="'Liberation Mono', monospace" font-size="45.83" fill="#262626">θˆ_bc=n·θˆ-(n-1)·θ.</text>
<text x="3107.36" y="3046.45" font-family="'Liberation Mono', monospace" font-size="19.17" fill="#262626">(</text>
<text x="3157.36" y="3046.45" font-family="'Liberation Mono', monospace" font-size="19.17" fill="#262626">)</text>
<rect x="3081.61" y="3013.95" width="13.5" height="3.33" fill="#262626"/>
<text x="2651.11 2701.11 2726.11 2751.11 2776.11 2801.11 2826.11 2851.11 2876.11 2901.11 2926.11 2951.11 2976.11 3001.11 3026.11 3051.11 3076.11 3101.11 3126.11" y="3098.55" font-family="'Liberation Mono', monospace" font-size="45.83" fill="#262626">=mean(pseudovalues)</text>
<text x="1031.88" y="75" font-family="'Liberation Sans', sans-serif" font-size="61.25" font-weight="bold" fill="#262626" textLength="2097.25" lengthAdjust="spacingAndGlyphs">Jackknife Bias Correction: Estimating and Removing O(1/n) Bias</text>
</svg></body></html>
